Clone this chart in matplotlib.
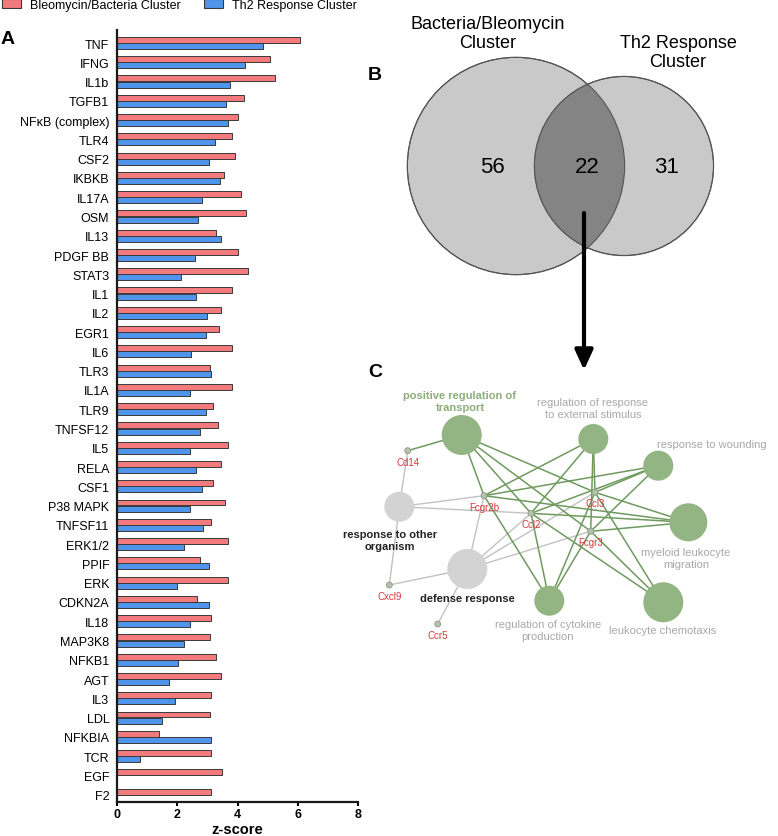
import numpy as np
import matplotlib
matplotlib.use('Agg')
import matplotlib.pyplot as plt
from matplotlib.patches import Circle, Patch

plt.rcParams['font.family'] = ['Liberation Sans', 'DejaVu Sans']

# ---------------- Panel A data ----------------
regulators = ["TNF", "IFNG", "IL1b", "TGFB1", "NFκB (complex)", "TLR4", "CSF2", "IKBKB",
              "IL17A", "OSM", "IL13", "PDGF BB", "STAT3", "IL1", "IL2", "EGR1", "IL6",
              "TLR3", "IL1A", "TLR9", "TNFSF12", "IL5", "RELA", "CSF1", "P38 MAPK",
              "TNFSF11", "ERK1/2", "PPIF", "ERK", "CDKN2A", "IL18", "MAP3K8", "NFKB1",
              "AGT", "IL3", "LDL", "NFKBIA", "TCR", "EGF", "F2"]
bleo_z = [6.06, 5.09, 5.26, 4.21, 4.03, 3.81, 3.92, 3.55, 4.13, 4.28, 3.28, 4.03, 4.34,
          3.83, 3.44, 3.40, 3.81, 3.09, 3.81, 3.20, 3.36, 3.68, 3.44, 3.20, 3.57, 3.12,
          3.68, 2.74, 3.68, 2.64, 3.12, 3.09, 3.30, 3.44, 3.12, 3.09, 1.41, 3.12, 3.49, 3.12]
th2_z = [4.83, 4.24, 3.76, 3.62, 3.68, 3.26, 3.07, 3.41, 2.83, 2.70, 3.44, 2.59, 2.11,
         2.61, 2.98, 2.96, 2.44, 3.12, 2.42, 2.96, 2.74, 2.42, 2.61, 2.83, 2.42, 2.84,
         2.24, 3.04, 2.00, 3.04, 2.42, 2.24, 2.02, 1.71, 1.94, 1.51, 3.12, 0.77, np.nan, np.nan]
series_names = ["Bleomycin/Bacteria Cluster", "Th2 Response Cluster"]
x_ticks = [0, 2, 4, 6, 8]

# ---------------- Panel B data ----------------
venn_titles = ["Bacteria/Bleomycin\nCluster", "Th2 Response\nCluster"]
venn_only_a = 56
venn_both = 22
venn_only_b = 31

# ---------------- Panel C data ----------------
term_names = ["positive regulation of\ntransport", "regulation of response\nto external stimulus",
              "response to wounding", "myeloid leukocyte\nmigration", "leukocyte chemotaxis",
              "regulation of cytokine\nproduction", "defense response",
              "response to other\norganism"]
term_group = ["green", "green", "green", "green", "green", "green", "gray", "gray"]
gene_names = ["Cd14", "Fcgr2b", "Ccl2", "Ccl3", "Fcgr3", "Cxcl9", "Ccr5"]
gene_term_links = [
    ("Cd14", 0), ("Cd14", 7),
    ("Fcgr2b", 0), ("Fcgr2b", 1), ("Fcgr2b", 2), ("Fcgr2b", 3), ("Fcgr2b", 5), ("Fcgr2b", 6), ("Fcgr2b", 7),
    ("Ccl2", 0), ("Ccl2", 1), ("Ccl2", 2), ("Ccl2", 3), ("Ccl2", 4), ("Ccl2", 5), ("Ccl2", 6), ("Ccl2", 7),
    ("Ccl3", 0), ("Ccl3", 1), ("Ccl3", 2), ("Ccl3", 3), ("Ccl3", 4), ("Ccl3", 5), ("Ccl3", 6),
    ("Fcgr3", 0), ("Fcgr3", 1), ("Fcgr3", 2), ("Fcgr3", 3), ("Fcgr3", 4), ("Fcgr3", 5), ("Fcgr3", 6),
    ("Cxcl9", 6), ("Cxcl9", 7), ("Ccr5", 6),
]

# ---------------- layout (pixels) ----------------
W, H = 778, 837
fig = plt.figure(figsize=(W / 100, H / 100), dpi=100)

RED = '#F47B7D'
BLUE = '#4F95EC'
EDGE = '#3a3a3a'

ax_l, ax_r, ax_t, ax_b = 117, 358, 31, 803
ax = fig.add_axes([ax_l / W, 1 - ax_b / H, (ax_r - ax_l) / W, (ax_b - ax_t) / H])
y = np.arange(len(regulators))
off = 0.16
bh = 0.31
ax.barh(y - off, bleo_z, height=bh, color=RED, edgecolor=EDGE, linewidth=0.7, label=series_names[0])
ax.barh(y + off, th2_z, height=bh, color=BLUE, edgecolor=EDGE, linewidth=0.7, label=series_names[1])
ax.set_yticks(y)
ax.set_yticklabels(regulators)
ax.set_ylim(39.38, -0.675)
ax.set_xlim(0, 8)
ax.set_xticks(x_ticks)
ax.spines['top'].set_visible(False)
ax.spines['right'].set_visible(False)
for s in ('left', 'bottom'):
    ax.spines[s].set_linewidth(1.6)
    ax.spines[s].set_color('#1a1a1a')
ax.tick_params(axis='y', length=0, pad=5.5, labelsize=9)
ax.tick_params(axis='x', length=3, width=1.5, labelsize=9, pad=1.5)
for lbl in ax.get_xticklabels():
    lbl.set_fontweight('bold')
ax.set_xlabel('z-score', fontsize=10.5, fontweight='bold', labelpad=1.5)

handles = [Patch(facecolor=RED, edgecolor=EDGE, linewidth=0.8, label=series_names[0]),
           Patch(facecolor=BLUE, edgecolor=EDGE, linewidth=0.8, label=series_names[1])]
fig.legend(handles=handles, loc='upper left', bbox_to_anchor=(2 / W, 1.0), ncol=2,
           frameon=False, fontsize=9, handlelength=1.5, handleheight=0.75,
           handletextpad=0.7, columnspacing=1.9, borderpad=0, borderaxespad=0)

# overlay axes in pixel coordinates
ov = fig.add_axes([0, 0, 1, 1])
ov.set_xlim(0, W)
ov.set_ylim(H, 0)
ov.axis('off')
ov.patch.set_visible(False)

ov.text(1, 39, 'A', fontsize=14, fontweight='bold', ha='left', va='center')
ov.text(375, 75, 'B', fontsize=14, fontweight='bold', ha='center', va='center')
ov.text(375, 372, 'C', fontsize=14, fontweight='bold', ha='center', va='center')

# ---------------- Venn (area proportional) ----------------
k = 12.3
nA = venn_only_a + venn_both
nB = venn_only_b + venn_both
rA = k * np.sqrt(nA)
rB = k * np.sqrt(nB)
target = np.pi * k ** 2 * venn_both


def lens_area(d, r1, r2):
    d1 = (d ** 2 + r1 ** 2 - r2 ** 2) / (2 * d)
    d2 = d - d1
    a1 = r1 ** 2 * np.arccos(np.clip(d1 / r1, -1, 1)) - d1 * np.sqrt(max(r1 ** 2 - d1 ** 2, 0))
    a2 = r2 ** 2 * np.arccos(np.clip(d2 / r2, -1, 1)) - d2 * np.sqrt(max(r2 ** 2 - d2 ** 2, 0))
    return a1 + a2


lo, hi = abs(rA - rB) + 1e-6, rA + rB - 1e-6
for _ in range(60):
    mid = 0.5 * (lo + hi)
    if lens_area(mid, rA, rB) > target:
        lo = mid
    else:
        hi = mid
dist = 0.5 * (lo + hi)

cA = (516, 167)
cB = (516 + dist, 167)
circA = Circle(cA, rA, facecolor='#c9c9c9', edgecolor='#555555', linewidth=0.8, zorder=2)
circB = Circle(cB, rB, facecolor='#c9c9c9', edgecolor='#555555', linewidth=0.8, zorder=2)
ov.add_patch(circA)
ov.add_patch(circB)
inter = Circle(cB, rB, facecolor='#848484', edgecolor='none', zorder=3)
ov.add_patch(inter)
inter.set_clip_path(circA)
ovl = Circle(cA, rA, facecolor='none', edgecolor='#555555', linewidth=0.8, zorder=4)
ov.add_patch(ovl)
ovl2 = Circle(cB, rB, facecolor='none', edgecolor='#555555', linewidth=0.8, zorder=4)
ov.add_patch(ovl2)

venn_counts = [venn_only_a, venn_both, venn_only_b]
count_x = [492, 587, 667]
for cx, v in zip(count_x, venn_counts):
    ov.text(cx, 167, str(v), fontsize=16, ha='center', va='center', zorder=5)
ov.text(488, 34, venn_titles[0], fontsize=13, ha='center', va='center', linespacing=1.15)
ov.text(678, 53, venn_titles[1], fontsize=13, ha='center', va='center', linespacing=1.15)

ov.annotate('', xy=(584, 371), xytext=(584, 214),
            arrowprops=dict(arrowstyle='-|>,head_length=1.2,head_width=0.55',
                            lw=3, color='black', shrinkA=0, shrinkB=0), zorder=6)

# ---------------- Network ----------------
term_xy = [(461.7, 436), (593.3, 440), (658.3, 466.7), (688.3, 523.3), (663.3, 603.3),
           (549.3, 601.7), (467.3, 570), (399.3, 507.7)]
term_r = [20, 15, 15, 19, 20, 15, 20, 15]
term_label_xy = [(460, 402), (593, 409), (711.7, 445), (686, 559), (663, 631),
                 (548, 631), (467, 599), (390, 541)]
gene_xy = {"Cd14": (407.7, 451.7), "Fcgr2b": (484, 496.7), "Ccl2": (531, 514.3),
           "Ccl3": (595, 493.3), "Fcgr3": (590.7, 532.3), "Cxcl9": (389.3, 586),
           "Ccr5": (437.7, 625)}

GREEN_NODE = '#93B483'
GREEN_EDGE = '#6F9A5E'
GREEN_TXT = '#8DAE7B'
GRAY_NODE = '#D3D3D3'
GRAY_EDGE = '#C2C2C2'
GRAY_TXT = '#A8A8A8'

for g, ti in gene_term_links:
    gx, gy = gene_xy[g]
    tx, ty = term_xy[ti]
    if term_group[ti] == 'green':
        ov.plot([gx, tx], [gy, ty], color=GREEN_EDGE, lw=1.1, zorder=3, solid_capstyle='round')
    else:
        ov.plot([gx, tx], [gy, ty], color=GRAY_EDGE, lw=1.0, zorder=2.5, solid_capstyle='round')

for i, name in enumerate(term_names):
    fc = GREEN_NODE if term_group[i] == 'green' else GRAY_NODE
    ov.add_patch(Circle(term_xy[i], term_r[i], facecolor=fc, edgecolor='none', zorder=4))
    lx, ly = term_label_xy[i]
    if i == 0:
        ov.text(lx, ly, name, color=GREEN_TXT, fontsize=8, fontweight='bold', ha='center',
                va='center', linespacing=1.3, zorder=5)
    elif term_group[i] == 'gray':
        ov.text(lx, ly, name, color='#222222', fontsize=8, fontweight='bold', ha='center',
                va='center', linespacing=1.3, zorder=5)
    else:
        ov.text(lx, ly, name, color=GRAY_TXT, fontsize=8, ha='center', va='center',
                linespacing=1.3, zorder=5)

for g in gene_names:
    gx, gy = gene_xy[g]
    ov.add_patch(Circle((gx, gy), 3, facecolor='#B3C3AB', edgecolor='#8e9c88', linewidth=0.6, zorder=5))
    ov.text(gx, gy + 11, g, color='#D9363B', fontsize=7, ha='center', va='center', zorder=6)

fig.savefig('out.png', dpi=100)
